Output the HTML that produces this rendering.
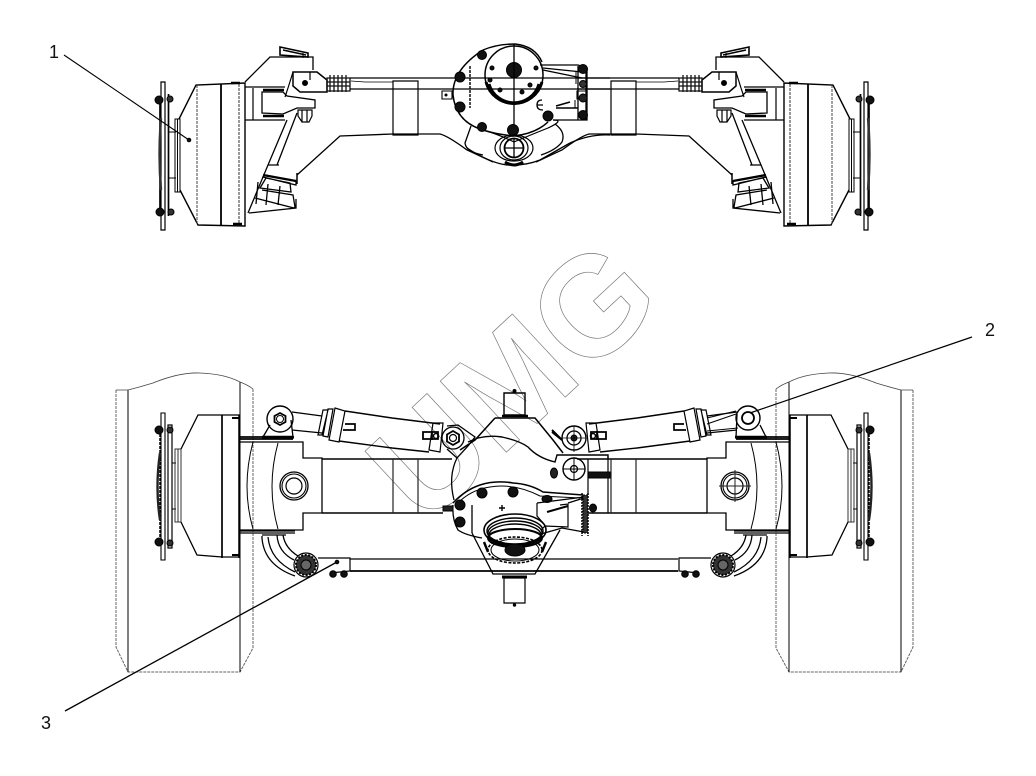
<!DOCTYPE html>
<html><head><meta charset="utf-8"><style>
html,body{margin:0;padding:0;background:#fff}
svg{display:block}
text.l{font-family:"Liberation Sans",sans-serif;font-size:18px;fill:#111}
text.w{font-family:"Liberation Sans",sans-serif;font-weight:bold;font-size:141px;fill:none;stroke:#777;stroke-width:.7}
</style></head><body>
<svg width="1036" height="776" viewBox="0 0 1036 776" xmlns="http://www.w3.org/2000/svg">
<rect width="1036" height="776" fill="#fff"/>
<defs>
<g id="topEnd">
 <path d="M161 82H165V230H161Z" stroke-width="1.200"/>
 <path d="M160 96V216M168.500 94V216" stroke-width="1.700"/>
 <path d="M161 118Q158 155 161 190" stroke-width="2.400" stroke="#333"/>
 <circle cx="159" cy="100" r="4" fill="#111"/><circle cx="170" cy="99" r="3" fill="#333"/>
 <circle cx="160" cy="212" r="4" fill="#111"/><circle cx="171" cy="212" r="3" fill="#333"/>
 <path d="M168 132H176M168 178H176"/>
 <path d="M175 119H180V192H175ZM177.500 119V192"/>
 <path d="M179 119L196 85L245 83V226L198 225L180 190" stroke-width="1.400"/>
 <path d="M197 85V225" stroke-dasharray="3 1" stroke="#444"/>
 <path d="M221 84V225" stroke-width="1.800"/>
 <path d="M239 84V225" stroke-dasharray="3 1" stroke="#333"/>
 <path d="M231 83H240M233 224H242" stroke-width="2.400"/>
 <path d="M245 82L270 57H297L313 57V70" stroke-width="1.300"/>
 <path d="M280 47L308 53L308 57L280 55Z" stroke-width="1.600"/>
 <path d="M283 50L306 55" stroke-width="1.500"/>
 <path d="M303 53V58"/>
 <path d="M245 87H285M245 120H285M253 88V120" stroke-width="1.200"/>
 <path d="M262 92H283L287 96L315 100V108H297L283 114L262 113Z" stroke-width="1.300"/>
 <path d="M263 90H284M263 116H284" stroke-width="2.400"/>
 <path d="M293 72H317L327 80V92L300 92L293 86Z" stroke-width="1.500"/>
 <path d="M293 72L288 88L285 97M310 72V80" stroke-width="1.200"/>
 <circle cx="305" cy="83" r="2.500" fill="#000"/>
 <path d="M327 78H350V91H327ZM330 75V92M334 75V92M338 75V92M342 75V92M346 75V92M327 82H350M327 86H350" stroke-width="1.300" stroke="#111"/>
 <path d="M298 110H312V116L309 122H302L298 116ZM302 110V122M307 110V122" stroke-width="1.200"/>
 <path d="M287 120L268 165L248 213M297 113L277 165M268 165H279" stroke-width="1.300"/>
 <path d="M265 175L296 181V185L263 177ZM266 178L290 183L291 192L260 188ZM262 190L293 195L295 207L294 208L255 198M249 213L296 208L296 199M258 182L256 204M268 184L266 205M280 186L278 205" stroke-width="1.300"/>
 <path d="M263 175L296 181" stroke-width="2.400"/>
 <path d="M297 173V184" stroke-width="1.500"/>
 <path d="M297 175L340 136Q365 135 393 134H418L440 134Q448 136 467 150L493 162" stroke-width="1.300"/>
 <path d="M393 81H418V135H393Z" stroke-width="1.200"/>
 <path d="M350 78H452M350 89H452" stroke-width="1.300"/>
 <path d="M351 81L365 82H393" stroke-width=".7"/>
 <path d="M442 91H452V99H442Z" stroke-width="1.100"/>
 <circle cx="446" cy="95" r="1" fill="#000"/>
</g>
<g id="wheel">
 <path d="M161 413H165V560H161Z" stroke-width="1.100"/>
 <path d="M168 425H172V548H168Z" stroke-width="1.200"/>
 <path d="M160 430V544" stroke-dasharray="3 1" stroke-width="1.500"/>
 <path d="M160 453Q155 487 160 520" stroke-width="2.400" stroke="#222"/>
 <circle cx="159" cy="430" r="4" fill="#111"/><circle cx="170" cy="430" r="3" fill="#333"/>
 <circle cx="159" cy="542" r="4" fill="#111"/><circle cx="170" cy="543" r="3" fill="#333"/>
 <path d="M172 463H176M172 509H176"/>
 <path d="M175 449H181V522H175ZM178 449V522" stroke="#333"/>
 <path d="M181 449L198 415L222 415H240M181 522L197 555L222 557H240" stroke-width="1.300"/>
 <path d="M222 415V558" stroke-width="1.700"/>
 <path d="M239 415V558" stroke-width="1.500"/>
 <path d="M232 418H239M232 555H239" stroke-width="2"/>
</g>
<g id="housing">
 <path d="M240 437H294M240 439H293" stroke-width="1.800"/>
 <path d="M240 531H295M240 533H295" stroke-width="1.300"/>
 <path d="M240 442H303V458H322V513H303V530H240" stroke-width="1.300"/>
 <path d="M253 442Q241 487 253 529" stroke-width="1"/>
 <path d="M278 443Q266 487 278 529" stroke-width="1"/>
 <circle cx="294" cy="486" r="14" stroke-width="1.300"/>
 <circle cx="294" cy="486" r="12" stroke-width="1.100"/>
 <circle cx="294" cy="486" r="8" stroke-width="1.200"/>
 <path d="M322 459H452M322 513H443" stroke-width="1.500"/>
 <path d="M393 459V513M418 459V513" stroke-width="1.200" stroke="#222"/>
 <path d="M262 535H286M262 536V538Q264 565 295 576M268 537Q270 560 295 572M283 535Q285 548 298 556M277 535Q278 552 294 560" stroke-width="1.300"/>
 <circle cx="306" cy="565" r="12" stroke-width="1.200"/>
 <circle cx="306" cy="565" r="10" fill="#333" stroke="#000" stroke-dasharray="2 1.500" stroke-width="2"/>
 <circle cx="306" cy="565" r="5" fill="#666" stroke="#000"/>
 <path d="M318 558H350V571L330 573" stroke-width="1.200"/>
 <circle cx="333" cy="574" r="3.300" fill="#111"/><circle cx="344" cy="574" r="3.300" fill="#111"/>
</g>
<g id="cyl">
 <path d="M292 412L322 416M292 430L322 433" stroke-width="1.300"/>
 <path d="M323 410L328 410L322 435L318 435ZM328 409L333 409L328 437L323 436ZM335 408L345 411L339 442L329 440Z" stroke-width="1.200"/>
 <path d="M345 411L392 418L440 424M339 441L392 448L429 452" stroke-width="1.400"/>
 <path d="M345 424H355V430H343" stroke-width="1.700"/>
 <path d="M433 423H443L440 452L429 450Z" stroke-width="1.200"/>
 <path d="M423 432H438V439H423ZM432 431V440" stroke-width="1.800"/>
 <circle cx="436" cy="436" r="2.500" stroke-width="1.500"/>
</g>
</defs>

<!-- watermark -->
<text class="w" transform="translate(425,528) rotate(-43)">UMG</text>

<g fill="none" stroke="#000" stroke-width="1">
<!-- TOP VIEW -->
<use href="#topEnd"/>
<use href="#topEnd" transform="translate(1029,0) scale(-1,1)"/>
<path d="M452 78H610M452 89H610" stroke-width="1.300"/>
<path d="M483 50Q452 70 453 95Q456 122 483 130Q495 134 513 136Q535 134 548 122" stroke-width="1.500"/>
<path d="M483 50Q497 44 515 44Q535 46 542 62" stroke-width="1.400"/>
<circle cx="514" cy="75" r="29" stroke-width="1.500"/>
<path d="M486 82A29 29 0 0 0 542 82M489 84A26 26 0 0 0 539 84" stroke-width="3"/>
<circle cx="514" cy="70" r="7.500" fill="#111"/>
<path d="M514 44V134" stroke-width="1.300"/>
<path d="M470 66V108" stroke-width="1.400" stroke-dasharray="3 1"/>
<circle cx="460" cy="77" r="5" fill="#111"/>
<circle cx="460" cy="107" r="5" fill="#111"/>
<circle cx="482" cy="55" r="4.500" fill="#111"/>
<circle cx="482" cy="127" r="4.500" fill="#111"/>
<circle cx="513" cy="130" r="5.500" fill="#111"/>
<circle cx="548" cy="116" r="5" fill="#111"/>
<circle cx="492" cy="68" r="2" fill="#111"/><circle cx="490" cy="80" r="2" fill="#111"/>
<circle cx="536" cy="68" r="2" fill="#111"/><circle cx="530" cy="85" r="2" fill="#111"/>
<circle cx="500" cy="90" r="2" fill="#111"/><circle cx="522" cy="92" r="2" fill="#111"/>
<path d="M540 65H578L587 68V120L583 120L553 120M543 70L582 78M543 68L582 72" stroke-width="1.300"/>
<path d="M578 66V120M586 66V120" stroke-width="1.300"/>
<circle cx="583" cy="69" r="4.500" fill="#111"/><circle cx="583" cy="84" r="3.500" fill="#333"/>
<circle cx="583" cy="98" r="4" fill="#222"/><circle cx="583" cy="115" r="4.500" fill="#111"/>
<path d="M576 72V84M575 100V108" stroke-width="1"/>
<path d="M542 100Q537 100 537 105Q537 110 543 110M537 105H543" stroke-width="1.300"/>
<path d="M556 106L570 102M556 108H578" stroke-width="1.600"/>
<path d="M487 131Q502 136 514 142Q528 136 548 128Q565 120 553 120" stroke-width="1.200"/>
<path d="M471 126L465 143Q466 152 483 155M555 124Q566 132 562 142Q556 150 541 155" stroke-width="1.300"/>
<path d="M467 148Q490 163 507 165Q525 166 540 160L570 143" stroke-width="1.300"/>
<path d="M570 143Q590 134 610 135" stroke-width="1.300"/>
<ellipse cx="514" cy="148" rx="19" ry="13" stroke-width="1.200"/>
<ellipse cx="514" cy="148" rx="14" ry="12" stroke-width="1.200"/>
<circle cx="514" cy="148" r="9.500" stroke-width="1.800"/>
<path d="M504 148H524M514 138V158" stroke-width="1.300"/>
<path d="M505 162Q514 168 523 162" stroke-width="3"/>

<!-- TYRES -->
<g id="ty">
 <path d="M116 390V647L128 672H240L253 648V389" stroke="#666" stroke-width="1" stroke-dasharray="3 1"/>
 <path d="M128 390V672M240 382V672" stroke-width="1"/>
 <path d="M116 390H128Q140 387 153 383Q180 372 200 373Q225 374 240 382Q248 385 253 389" stroke="#444" stroke-width=".8"/>
</g>
<use href="#ty" transform="translate(1029,0) scale(-1,1)"/>

<!-- BOTTOM VIEW -->
<use href="#wheel"/>
<use href="#wheel" transform="translate(1029,0) scale(-1,1)"/>
<use href="#housing"/>
<use href="#housing" transform="translate(1029,0) scale(-1,1)"/>
<path d="M735 470V502M719 486H751" stroke-width="1" stroke="#222"/>

<!-- cylinders left -->
<use href="#cyl"/>
<path d="M263 437L270 425M293 437L291 420M262 438H294" stroke-width="1.300"/>
<path d="M262 437H293" stroke-width="2.400"/>
<circle cx="280" cy="419" r="13" stroke-width="1.400"/>
<path d="M280 413L285.500 416V422L280 425L274.500 422V416Z" stroke-width="1.800"/>
<circle cx="280" cy="419" r="3.500" stroke-width="1"/>
<path d="M447 426L458 425L475 437L468 446L457 458L447 449" stroke-width="1.300"/>
<circle cx="453" cy="438" r="11" stroke-width="1.300"/>
<path d="M453 431L459 434.500V441.500L453 445L447 441.500V434.500Z" stroke-width="1.800"/>
<circle cx="453" cy="438" r="3.500" stroke-width="1.200"/>
<!-- cylinder right -->
<g transform="translate(1029,0) scale(-1,1)">
<use href="#cyl"/>
</g>
<path d="M766 437L760 425M736 438L737 414M735 438H767" stroke-width="1.300"/>
<path d="M735 437H767" stroke-width="2.400"/>
<circle cx="748" cy="418" r="12" stroke-width="1.400"/>
<path d="M742 418a6 6 0 1 0 12 0a6 6 0 1 0-12 0" stroke-width="1.800"/>
<path d="M707 418L736 411M707 424L736 414M707 431L738 428" stroke-width="1"/>
<circle cx="574" cy="438" r="12" stroke-width="1.400"/>
<circle cx="574" cy="438" r="7" stroke-width="1.300"/>
<circle cx="574" cy="438" r="3" fill="#222"/>
<path d="M574 426V452M562 438H586" stroke-width=".8"/>
<path d="M552 430L562 440L552 432" fill="#111" stroke-width="2"/>
<circle cx="574" cy="469" r="11" stroke-width="1.400"/>
<circle cx="574" cy="469" r="3.500" stroke-width="1.300"/>
<path d="M574 458V480M563 469H585" stroke-width="1"/>
<ellipse cx="554" cy="473" rx="3.500" ry="5" fill="#222"/>

<!-- centre housing -->
<path d="M504 393H525V415H504Z" stroke-width="1.400"/>
<path d="M502 416H528" stroke-width="2.600"/>
<circle cx="514.500" cy="391" r="1.500" fill="#000"/>
<path d="M495 418H535L553 440L563 453" stroke-width="1.500"/>
<path d="M495 418L475 440L460 450" stroke-width="1.500"/>
<path d="M468 442L478 438Q490 435 502 437Q520 441 528 447Q538 458 555 462L557 455H608V459" stroke-width="1.400"/>
<path d="M608 456V513M588 459V495" stroke-width="1.200"/>
<path d="M588 472H610V478H588Z" fill="#111"/>
<path d="M457 458Q448 476 454 500" stroke-width="1.300"/>
<path d="M453 503Q465 490 480 485Q495 480 513 483Q530 484 543 492L583 495" stroke-width="1.500"/>
<path d="M457 504Q470 490 490 487Q515 483 540 496L580 498" stroke-width="1"/>
<path d="M453 505Q452 520 458 530Q465 535 482 538" stroke-width="1.300"/>
<path d="M472 505V533" stroke-width="1.300"/>
<path d="M472 533L493 574H535L560 530" stroke-width="1.300"/>
<path d="M443 506H453V511H443Z" fill="#222"/>
<circle cx="460" cy="505" r="5" fill="#111"/>
<circle cx="460" cy="522" r="5" fill="#111"/>
<circle cx="482" cy="493" r="5" fill="#111"/>
<circle cx="513" cy="492" r="5" fill="#111"/>
<ellipse cx="547" cy="499" rx="5" ry="3.500" fill="#111"/>
<path d="M499 508H505M502 505V511" stroke-width="1.400"/>
<path d="M537 503V516L544 524M537 503L584 497M560 505L568 504V527L545 526L541 530M568 503L584 498V532L562 528L541 534" stroke-width="1.200"/>
<path d="M547 512L568 506" stroke-width="2"/>
<path d="M583 495H588V533H583Z" fill="#333" stroke-dasharray="2 1"/>
<path d="M582 493V536M588 493V536" stroke-width="1.500" stroke-dasharray="2 1"/>
<ellipse cx="593" cy="508" rx="3.500" ry="4" fill="#111"/>
<ellipse cx="515" cy="530" rx="31" ry="16" stroke-width="1.600"/>
<ellipse cx="515" cy="531" rx="28" ry="13" stroke-width="1.400"/>
<ellipse cx="515" cy="533" rx="27" ry="12" stroke-width="1.400"/>
<ellipse cx="515" cy="535" rx="26" ry="11" stroke-width="1.400"/>
<ellipse cx="515" cy="538" rx="27" ry="9" stroke-width="2"/>
<ellipse cx="515" cy="550" rx="27" ry="13" stroke-width="1.600" stroke-dasharray="3 1.500"/>
<ellipse cx="515" cy="550" rx="24" ry="11" stroke-width="1"/>
<ellipse cx="515" cy="550" rx="10" ry="6" fill="#111"/>
<path d="M484 542L488 552M546 542L542 552" stroke-width="2.400"/>
<path d="M350 559H678" stroke-width="1.300"/>
<path d="M350 571H678" stroke-width="1.800"/>
<path d="M502 577H527" stroke-width="3"/>
<path d="M504 578H525V603H504Z" stroke-width="1.200"/>
<circle cx="514.500" cy="605" r="1.200" fill="#000"/>

<!-- leaders -->
<path d="M64 55L189 140" stroke-width="1.100"/>
<circle cx="189" cy="140" r="1.800" fill="#111"/>
<path d="M972 337L750 413" stroke-width="1.200"/>
<path d="M65 711L337 562" stroke-width="1.300"/>
<circle cx="337" cy="562" r="1.800" fill="#111"/>
</g>

<text class="l" x="49" y="58">1</text>
<text class="l" x="985" y="336">2</text>
<text class="l" x="41" y="729">3</text>
</svg>
</body></html>
